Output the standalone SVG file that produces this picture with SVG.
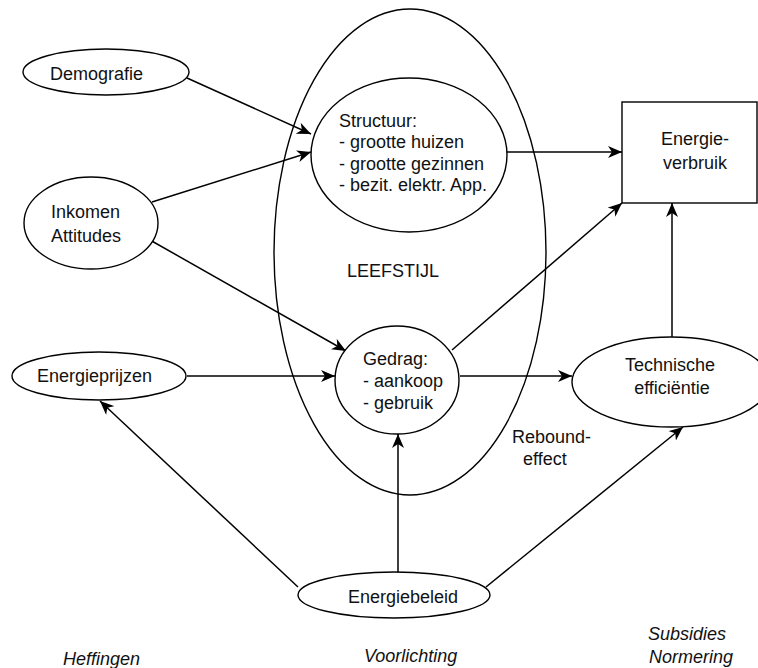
<svg xmlns="http://www.w3.org/2000/svg" width="758" height="668" viewBox="0 0 758 668">
<style>
.n{fill:#fff;stroke:#000;stroke-width:1.4}
.big{fill:none;stroke:#000;stroke-width:1.4}
.c{fill:none;stroke:#000;stroke-width:1.5;marker-end:url(#arr)}
text{font-family:"Liberation Sans",Arial,sans-serif;font-size:18px;fill:#111}
.i{font-style:italic}
.m{text-anchor:middle}
</style>
<defs>
<marker id="arr" markerUnits="userSpaceOnUse" markerWidth="15" markerHeight="12" refX="14" refY="6" orient="auto" viewBox="0 0 15 12">
<path d="M0,0 L14,6 L0,12 L4,6 Z" fill="#000"/>
</marker>
</defs>
<rect width="758" height="668" fill="#fff"/>
<g id="leefstijl">
<ellipse class="big" cx="410" cy="252" rx="136" ry="243"/>
<text x="347" y="277">LEEFSTIJL</text>
</g>
<g id="connectors">
<line class="c" x1="187" y1="78" x2="311" y2="134"/>
<line class="c" x1="152" y1="202" x2="311" y2="152"/>
<line class="c" x1="150" y1="240" x2="346" y2="351"/>
<line class="c" x1="187" y1="376" x2="335" y2="376"/>
<line class="c" x1="507" y1="152" x2="622" y2="152"/>
<line class="c" x1="452" y1="350" x2="622" y2="203"/>
<line class="c" x1="460" y1="376" x2="572" y2="376"/>
<line class="c" x1="672" y1="338" x2="672" y2="203"/>
<line class="c" x1="398" y1="572" x2="398" y2="434"/>
<line class="c" x1="298" y1="587" x2="100" y2="401"/>
<line class="c" x1="486" y1="587" x2="683" y2="427"/>
</g>
<g id="demografie">
<ellipse class="n" cx="106" cy="72" rx="83" ry="23"/>
<text x="50" y="80">Demografie</text>
</g>
<g id="inkomen">
<ellipse class="n" cx="91" cy="223" rx="67" ry="46"/>
<text x="51" y="218">Inkomen</text>
<text x="51" y="242">Attitudes</text>
</g>
<g id="structuur">
<ellipse class="n" cx="409" cy="155" rx="98" ry="77"/>
<text x="339" y="127">Structuur:</text>
<text x="339" y="148">- grootte huizen</text>
<text x="339" y="170">- grootte gezinnen</text>
<text x="339" y="191">- bezit. elektr. App.</text>
</g>
<g id="energieverbruik">
<rect class="n" x="622" y="102" width="135" height="101"/>
<text class="m" x="695" y="145">Energie-</text>
<text class="m" x="695" y="169">verbruik</text>
</g>
<g id="gedrag">
<ellipse class="n" cx="397" cy="380" rx="62" ry="54"/>
<text x="363" y="365">Gedrag:</text>
<text x="363" y="387">- aankoop</text>
<text x="363" y="409">- gebruik</text>
</g>
<g id="energieprijzen">
<ellipse class="n" cx="99" cy="376" rx="87" ry="24"/>
<text x="37" y="382">Energieprijzen</text>
</g>
<g id="technische">
<ellipse class="n" cx="671" cy="382" rx="99" ry="45"/>
<text class="m" x="670" y="371">Technische</text>
<text class="m" x="672" y="394">efficiëntie</text>
</g>
<g id="energiebeleid">
<ellipse class="n" cx="394" cy="595" rx="96" ry="23"/>
<text x="348" y="603">Energiebeleid</text>
</g>
<g id="labels">
<text x="512" y="443">Rebound-</text>
<text x="523" y="465">effect</text>
<text class="i" x="63" y="665">Heffingen</text>
<text class="i" x="364" y="662">Voorlichting</text>
<text class="i" x="648" y="640">Subsidies</text>
<text class="i" x="649" y="663">Normering</text>
</g>
</svg>
